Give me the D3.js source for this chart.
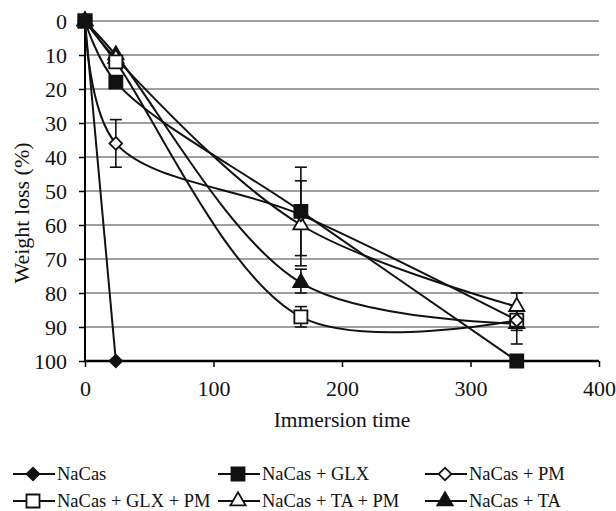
<!DOCTYPE html>
<html>
<head>
<meta charset="utf-8">
<script src="https://cdn.jsdelivr.net/npm/d3@7"></script>
<style>
body { margin: 0; background: #fff; }
svg { display: block; font-family: 'Liberation Serif', 'Times New Roman', serif; }
</style>
</head>
<body>
<svg></svg>
<script>
var width = 616;
var height = 511;

// immersion times (h)
var times = [0, 24, 168, 336];
var xTicks = [0, 100, 200, 300, 400];
var yTicks = [0, 10, 20, 30, 40, 50, 60, 70, 80, 90, 100];

// weight loss (%) per series
var naCas = [0, 100];
var naCasGlx = [0, 18, 56, 100];
var naCasPm = [0, 36, 57, 88];
var naCasGlxPm = [0, 12, 87, 88];
var naCasTaPm = [0, 11, 60, 84];
var naCasTa = [0, 10, 77, 89];

// error bars: [time, low, high]
var errNaCasPm = [[24, 29, 43]];
var errNaCasGlx = [[168, 43, 69]];
var errNaCasTaPm = [[168, 47, 72], [336, 80, 95]];
var errNaCasTa = [[168, 73, 80]];
var errNaCasGlxPm = [[168, 84, 90], [336, 85, 91]];

var series = [
	{ name: 'NaCas', values: naCas, marker: 'diamond', fill: true },
	{ name: 'NaCas + GLX', values: naCasGlx, marker: 'square', fill: true },
	{ name: 'NaCas + PM', values: naCasPm, marker: 'diamond', fill: false },
	{ name: 'NaCas + GLX + PM', values: naCasGlxPm, marker: 'square', fill: false },
	{ name: 'NaCas + TA + PM', values: naCasTaPm, marker: 'triangle', fill: false },
	{ name: 'NaCas + TA', values: naCasTa, marker: 'triangle', fill: true }
];

var errors = [].concat(errNaCasPm, errNaCasGlx, errNaCasTaPm, errNaCasTa, errNaCasGlxPm);

var svg = d3.select('svg')
	.attr('width', width)
	.attr('height', height);

var x = d3.scaleLinear()
	.domain([0, 400])
	.range([85, 599]);

var y = d3.scaleLinear()
	.domain([0, 100])
	.range([21, 361]);

// gridlines
svg.append('g')
	.selectAll('line')
	.data(yTicks.slice(0, -1))
	.join('line')
	.attr('x1', x(0))
	.attr('x2', x(400))
	.attr('y1', d => y(d))
	.attr('y2', d => y(d))
	.attr('stroke', '#808080')
	.attr('stroke-width', 1.3);

var yAxis = d3.axisLeft(y)
	.tickValues(yTicks)
	.tickSize(6)
	.tickPadding(12);

var yG = svg.append('g')
	.attr('transform', `translate(${x(0)},0)`)
	.call(yAxis);
yG.select('.domain').attr('stroke-width', 2).attr('d', `M0,${y(0)}V${y(100)}`);
yG.selectAll('.tick line').attr('stroke-width', 1.5);
yG.selectAll('text').attr('font-size', 22).attr('fill', '#111').attr('font-family', 'Liberation Serif');

var xAxis = d3.axisBottom(x)
	.tickValues(xTicks)
	.tickSize(6)
	.tickPadding(13);

var xG = svg.append('g')
	.attr('transform', `translate(0,${y(100)})`)
	.call(xAxis);
xG.select('.domain').attr('stroke-width', 2.5).attr('d', `M${x(0)},0H${x(400)}`);
xG.selectAll('.tick line').attr('stroke-width', 1.5);
xG.selectAll('text').attr('font-size', 22).attr('fill', '#111').attr('font-family', 'Liberation Serif');

svg.append('text')
	.attr('x', 342)
	.attr('y', 427)
	.attr('text-anchor', 'middle')
	.attr('font-size', 21.5)
	.attr('fill', '#111')
	.text('Immersion time');

svg.append('text')
	.attr('transform', 'translate(29,213) rotate(-90)')
	.attr('text-anchor', 'middle')
	.attr('font-size', 22)
	.attr('fill', '#111')
	.text('Weight loss (%)');

var line = d3.line()
	.x(d => x(d.t))
	.y(d => y(d.v))
	.curve(d3.curveCatmullRom.alpha(0.5));

function pts(s) {
	return s.values.map((v, i) => ({ t: times[i], v: v }));
}

svg.append('g')
	.selectAll('path')
	.data(series)
	.join('path')
	.attr('d', s => line(pts(s)))
	.attr('fill', 'none')
	.attr('stroke', '#111')
	.attr('stroke-width', 2);

// error bars
var eb = svg.append('g').attr('stroke', '#111').attr('stroke-width', 1.6);
errors.forEach(function (e) {
	eb.append('line').attr('x1', x(e[0])).attr('x2', x(e[0])).attr('y1', y(e[1])).attr('y2', y(e[2]));
	[e[1], e[2]].forEach(function (v) {
		eb.append('line').attr('x1', x(e[0]) - 6).attr('x2', x(e[0]) + 6).attr('y1', y(v)).attr('y2', y(v));
	});
});

var symbols = {
	diamond: d3.symbol().type(d3.symbolSquare).size(80),
	square: d3.symbol().type(d3.symbolSquare).size(170),
	triangle: d3.symbol().type(d3.symbolTriangle).size(100)
};

function drawMarker(g, s, cx, cy) {
	g.append('path')
		.attr('d', symbols[s.marker]())
		.attr('transform', `translate(${cx},${cy})` + (s.marker === 'diamond' ? ' rotate(45)' : ''))
		.attr('fill', s.fill ? '#111' : '#fff')
		.attr('stroke', '#111')
		.attr('stroke-width', 1.8);
}

var mk = svg.append('g');
series.slice().reverse().forEach(function (s) {
	pts(s).forEach(function (p) {
		drawMarker(mk, s, x(p.t), y(p.v));
	});
});

// legend
var legendCols = [13, 218, 425];
var legendRows = [474, 501];
var lg = svg.append('g');
series.forEach(function (s, i) {
	var lx = legendCols[i % 3], ly = legendRows[Math.floor(i / 3)];
	lg.append('line')
		.attr('x1', lx).attr('x2', lx + 42)
		.attr('y1', ly).attr('y2', ly)
		.attr('stroke', '#111').attr('stroke-width', 2);
	drawMarker(lg, s, lx + 20, ly);
	lg.append('text')
		.attr('x', lx + 44)
		.attr('y', ly + 6)
		.attr('font-size', 18.5)
		.attr('fill', '#111')
		.text(s.name);
});
</script>
</body>
</html>
